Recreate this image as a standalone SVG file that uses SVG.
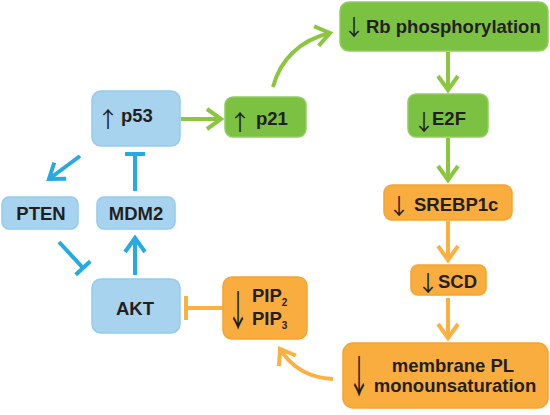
<svg xmlns="http://www.w3.org/2000/svg" width="550" height="415" viewBox="0 0 550 415">
<style>
.b{fill:#a7d3ef;stroke:#93cbee;stroke-width:1.5}
.g{fill:#7cc242;stroke:#92cc5e;stroke-width:1.5}
.o{fill:#f9ad3f;stroke:#f6a32d;stroke-width:1.5}
.t{font-family:"Liberation Sans",Arial,sans-serif;font-weight:bold;font-size:18.5px;fill:#231f20}
.a{font-family:"Noto Sans CJK SC",sans-serif;font-weight:normal;font-size:22px;fill:#231f20}
.cb{fill:none;stroke:#27a9e1;stroke-width:4}
.cg{fill:none;stroke:#8cc63f;stroke-width:4}
.co{fill:none;stroke:#fbb040;stroke-width:4}
</style>
<defs>
<marker id="mb" markerUnits="userSpaceOnUse" viewBox="-20 -14 24 28" markerWidth="24" markerHeight="28" refX="0" refY="0" orient="auto"><path d="M-14 -10 L0 0 L-14 10" fill="none" stroke="#27a9e1" stroke-width="4"/></marker>
<marker id="mg" markerUnits="userSpaceOnUse" viewBox="-20 -14 24 28" markerWidth="24" markerHeight="28" refX="0" refY="0" orient="auto"><path d="M-14 -10 L0 0 L-14 10" fill="none" stroke="#8cc63f" stroke-width="4"/></marker>
<marker id="mo" markerUnits="userSpaceOnUse" viewBox="-20 -14 24 28" markerWidth="24" markerHeight="28" refX="0" refY="0" orient="auto"><path d="M-14 -10 L0 0 L-14 10" fill="none" stroke="#fbb040" stroke-width="4"/></marker>
<marker id="tb" markerUnits="userSpaceOnUse" viewBox="-4 -12 8 24" markerWidth="8" markerHeight="24" refX="0" refY="0" orient="auto"><path d="M0 -10 L0 10" stroke="#27a9e1" stroke-width="4"/></marker>
<marker id="to" markerUnits="userSpaceOnUse" viewBox="-4 -14 8 28" markerWidth="8" markerHeight="28" refX="0" refY="0" orient="auto"><path d="M0 -12 L0 12" stroke="#fbb040" stroke-width="4"/></marker>
</defs>
<g id="connectors">
<path class="cg" d="M181 119 L221 119" marker-end="url(#mg)"/>
<path class="cg" d="M273 87 C280 60 300 40 330 33" marker-end="url(#mg)"/>
<path class="cg" d="M448 52 L448 90" marker-end="url(#mg)"/>
<path class="cg" d="M448 138 L448 180" marker-end="url(#mg)"/>
<path class="co" d="M448 221 L448 260" marker-end="url(#mo)"/>
<path class="co" d="M448 298 L448 338" marker-end="url(#mo)"/>
<path class="co" d="M333 379 C310 378 292 368 280 349" marker-end="url(#mo)"/>
<path class="co" d="M223 308 L186 308" marker-end="url(#to)"/>
<path class="cb" d="M80 156 L49 179" marker-end="url(#mb)"/>
<path class="cb" d="M135 191 L135 154" marker-end="url(#tb)"/>
<path class="cb" d="M59 242 L83 268" marker-end="url(#tb)"/>
<path class="cb" d="M135 275 L135 238" marker-end="url(#mb)"/>
</g>
<g id="p53"><rect class="b" x="92" y="91" width="88" height="55" rx="9"/><text class="a" transform="translate(97 127)">↑</text><text class="t" x="121" y="122">p53</text></g>
<g id="pten"><rect class="b" x="2" y="197" width="76" height="32" rx="7"/><text class="t" x="41" y="220" text-anchor="middle">PTEN</text></g>
<g id="mdm2"><rect class="b" x="97" y="197" width="78" height="32" rx="7"/><text class="t" x="136" y="220" text-anchor="middle">MDM2</text></g>
<g id="akt"><rect class="b" x="92" y="279" width="88" height="54" rx="9"/><text class="t" x="135" y="315" text-anchor="middle">AKT</text></g>
<g id="p21"><rect class="g" x="225" y="97" width="81" height="40" rx="8"/><text class="a" transform="translate(229 130)">↑</text><text class="t" x="256" y="125">p21</text></g>
<g id="rb"><rect class="g" x="340" y="2" width="208" height="49" rx="9"/><text class="a" transform="translate(343 35)">↓</text><text class="t" x="366" y="33">Rb phosphorylation</text></g>
<g id="e2f"><rect class="g" x="408" y="94" width="80" height="43" rx="8"/><text class="a" transform="translate(413 130)">↓</text><text class="t" x="432" y="125">E2F</text></g>
<g id="srebp1c"><rect class="o" x="384" y="185" width="128" height="35" rx="8"/><text class="a" transform="translate(388 214)">↓</text><text class="t" x="414" y="211">SREBP1c</text></g>
<g id="scd"><rect class="o" x="411" y="265" width="75" height="30" rx="7"/><text class="a" transform="translate(417 291)">↓</text><text class="t" x="438" y="288">SCD</text></g>
<g id="pip"><rect class="o" x="223" y="277" width="84" height="62" rx="9"/><text class="a" transform="translate(227 326) scale(1 1.9)">↓</text><text class="t" x="252" y="302">PIP<tspan font-size="10" dy="4">2</tspan></text><text class="t" x="252" y="325">PIP<tspan font-size="10" dy="4">3</tspan></text></g>
<g id="membrane"><rect class="o" x="343" y="343" width="205" height="65" rx="10"/><text class="a" transform="translate(348 393) scale(1 2)">↓</text><text class="t" x="453" y="372" text-anchor="middle">membrane PL</text><text class="t" x="455" y="392" text-anchor="middle">monounsaturation</text></g>
</svg>
